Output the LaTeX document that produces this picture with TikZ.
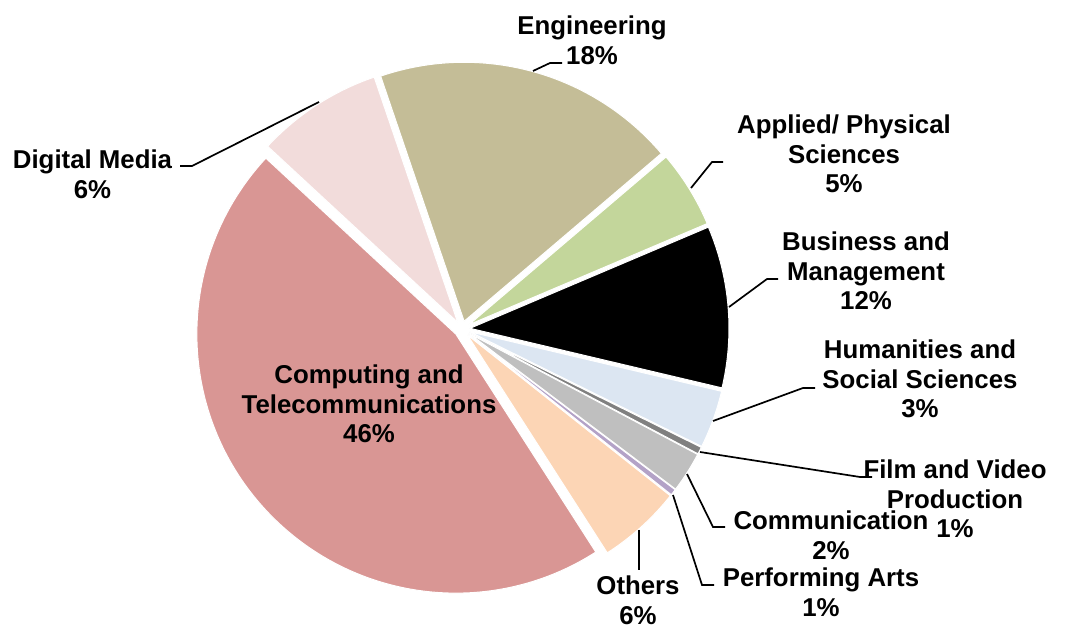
\documentclass[tikz,border=0pt]{standalone}
\usepackage{fontspec}
\setmainfont{Liberation Sans}
\usetikzlibrary{calc}
\definecolor{cComp}{RGB}{217,150,148}
\definecolor{cDM}{RGB}{242,220,219}
\definecolor{cEng}{RGB}{196,189,151}
\definecolor{cApp}{RGB}{195,214,155}
\definecolor{cBus}{RGB}{0,0,0}
\definecolor{cHum}{RGB}{220,230,242}
\definecolor{cFilm}{RGB}{128,128,128}
\definecolor{cComm}{RGB}{191,191,191}
\definecolor{cPerf}{RGB}{179,162,199}
\definecolor{cOth}{RGB}{252,213,181}
\newcommand\pieslice[4]{%
  \pgfmathsetmacro\midang{(#1+#2)/2}%
  \filldraw[fill=#3, wedge] ($(C)+(\midang:8)$) coordinate (#4) -- ++(#1:259)
    arc[start angle=#1, end angle=#2, radius=259] -- cycle;
}
\begin{document}
\begin{tikzpicture}[x=1pt,y=1pt,
  lbl/.style={font=\fontsize{25.8}{29.5}\selectfont\bfseries, align=center, anchor=north, inner sep=0pt},
  leader/.style={draw=black, line width=1.7pt},
  wedge/.style={draw=white, line width=1pt, line join=round}]
\useasboundingbox (0,0) rectangle (1073,629);
\coordinate (C) at (462,300);
% slices
\pieslice{40.4}{108.8}{cEng}{sEng}
\pieslice{108.8}{137.2}{cDM}{sDM}
\pieslice{137.2}{302.7}{cComp}{sComp}
\pieslice{302.7}{321.6}{cOth}{sOth}
\pieslice{321.6}{323.0}{cPerf}{sPerf}
\pieslice{323.0}{332.1}{cComm}{sComm}
\pieslice{332.1}{333.7}{cFilm}{sFilm}
\pieslice{333.7}{346.7}{cHum}{sHum}
\pieslice{346.7}{383.0}{cBus}{sBus}
\pieslice{23.0}{40.4}{cApp}{sApp}
% labels
\node[lbl] (lEng) at (592,613) {Engineering\\18\%};
\node[lbl] (lDM) at (92.5,479) {Digital Media\\6\%};
\node[lbl] (lApp) at (844,514) {Applied/ Physical\\Sciences\\5\%};
\node[lbl] (lBus) at (866,397) {Business and\\Management\\12\%};
\node[lbl] (lHum) at (920,289) {Humanities and\\Social Sciences\\3\%};
\node[lbl] (lFilm) at (955,169) {Film and Video\\Production\\1\%};
\node[lbl] (lComm) at (831,118) {Communication\\2\%};
\node[lbl] (lPerf) at (821,61) {Performing Arts\\1\%};
\node[lbl] (lOth) at (638,53) {Others\\6\%};
\node[lbl] (lComp) at (369,264) {Computing and\\Telecommunications\\46\%};
% leader coordinates
\coordinate (eA) at (533,558); \coordinate (eB) at (550,566); \coordinate (eC) at (562,566);
\coordinate (dA) at (319,527); \coordinate (dB) at (192,463); \coordinate (dC) at (180,463);
\coordinate (aA) at (691,441); \coordinate (aB) at (712,467); \coordinate (aC) at (723,467);
\coordinate (bA) at (729,322); \coordinate (bB) at (767,350); \coordinate (bC) at (778,350);
\coordinate (hA) at (713,208); \coordinate (hB) at (803,241); \coordinate (hC) at (815,241);
\coordinate (fA) at (700,177); \coordinate (fB) at (860,152); \coordinate (fC) at (872,152);
\coordinate (cA) at (687,155); \coordinate (cB) at (713,102); \coordinate (cC) at (725,102);
\coordinate (pA) at (673,134); \coordinate (pB) at (702,44); \coordinate (pC) at (714,44);
\coordinate (oA) at (639,99); \coordinate (oB) at (639,59);
\draw[leader] (eA) -- (eB) -- (eC);
\draw[leader] (dA) -- (dB) -- (dC);
\draw[leader] (aA) -- (aB) -- (aC);
\draw[leader] (bA) -- (bB) -- (bC);
\draw[leader] (hA) -- (hB) -- (hC);
\draw[leader] (fA) -- (fB) -- (fC);
\draw[leader] (cA) -- (cB) -- (cC);
\draw[leader] (pA) -- (pB) -- (pC);
\draw[leader] (oA) -- (oB);
\end{tikzpicture}
\end{document}
